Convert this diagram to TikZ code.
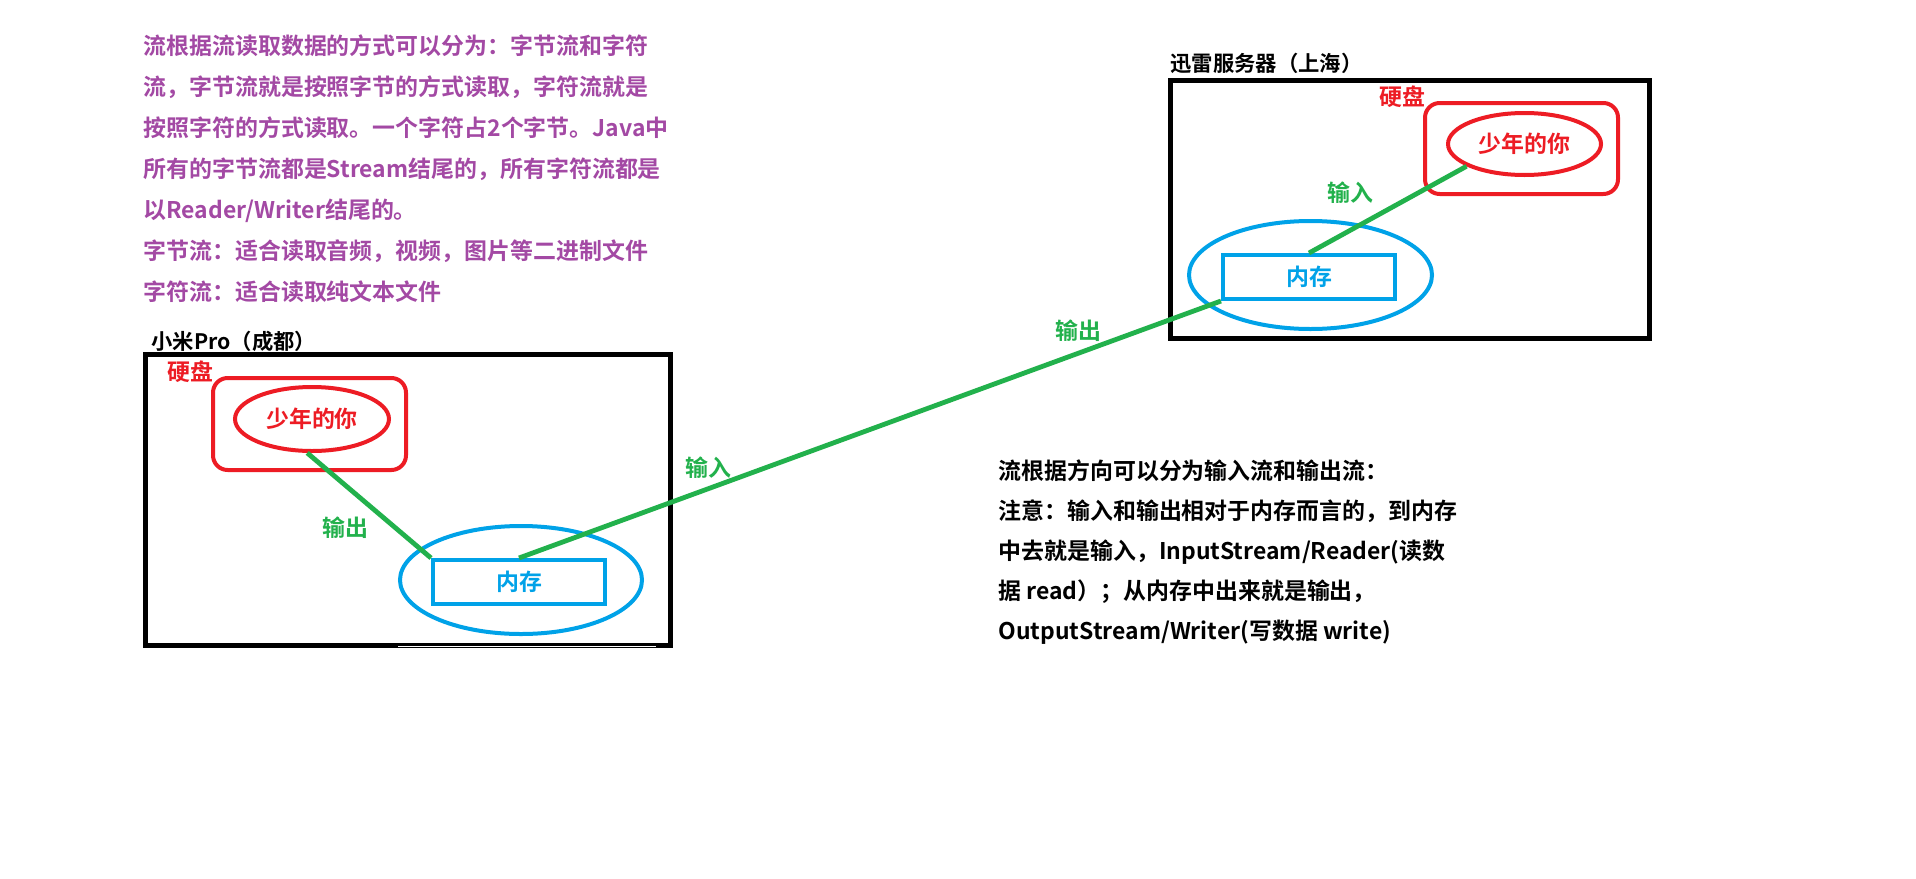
\documentclass[tikz,border=0pt]{standalone}
\usepackage{fontspec}
\setmainfont{Noto Sans CJK SC}[BoldFont={Noto Sans CJK SC Bold}]
\usetikzlibrary{shapes.geometric}

\definecolor{paintred}{RGB}{237,28,36}
\definecolor{paintblue}{RGB}{0,162,232}
\definecolor{paintgreen}{RGB}{34,177,76}
\definecolor{paintpurple}{RGB}{163,73,164}

\tikzset{every picture/.style={line width=0.75pt}}
\tikzset{
  txt/.style={inner sep=0pt, font=\bfseries\fontsize{17.2}{20}\selectfont},
  machine/.style={draw=black, line width=3.75pt, inner sep=0pt},
  disk/.style={draw=paintred, line width=3pt, rounded corners=11pt, inner sep=0pt},
  file/.style={ellipse, draw=paintred, line width=3pt, inner sep=0pt, text=paintred, txt},
  memory/.style={ellipse, draw=paintblue, line width=3pt, inner sep=0pt},
  ram/.style={draw=paintblue, line width=3pt, inner sep=0pt, text=paintblue, txt},
  flow/.style={draw=paintgreen, line width=3.6pt},
}

\begin{document}
\begin{tikzpicture}[x=0.75pt,y=0.75pt,yscale=-1,xscale=1]
        \path[use as bounding box, fill=white] (0,0) rectangle (1916,878);

        % Text Node
        \node (bytetext) at (143,34) [anchor=north west, txt, text=paintpurple, align=left, font=\bfseries\fontsize{17.2}{30.75}\selectfont] {流根据流读取数据的方式可以分为：字节流和字符\\流，字节流就是按照字节的方式读取，字符流就是\\按照字符的方式读取。一个字符占2个字节。Java中\\所有的字节流都是Stream结尾的，所有字符流都是\\以Reader/Writer结尾的。\\字节流：适合读取音频，视频，图片等二进制文件\\字符流：适合读取纯文本文件};

        %Shape: Rectangle [小米Pro]
        \node (lbox) at (408,500) [machine, minimum width=393.75pt, minimum height=218.25pt] {};
        \draw [white, line width=0.75pt] (398,646.5) -- (656,646.5);
        % Text Node
        \node (ltitle) at (151,341) [anchor=west, txt, font=\bfseries\fontsize{16}{20}\selectfont] {小米Pro（成都）};
        % Text Node
        \node (ldisklabel) at (190,372) [txt, text=paintred] {硬盘};
        %Shape: Rounded Rect
        \node (ldisk) at (309.5,424) [disk, minimum width=144.75pt, minimum height=69pt] {};
        %Shape: Ellipse
        \node (lfile) at (312,419) [file, minimum width=115.5pt, minimum height=48pt] {少年的你};
        %Shape: Ellipse
        \node (lmemory) at (521,580) [memory, minimum width=181.5pt, minimum height=81pt] {};
        %Shape: Rectangle
        \node (lram) at (519,582) [ram, minimum width=129pt, minimum height=33pt] {内存};

        %Shape: Rectangle [迅雷服务器]
        \node (rbox) at (1410,209.5) [machine, minimum width=359.25pt, minimum height=193.5pt] {};
        % Text Node
        \node (rtitle) at (1170,63) [anchor=west, txt, font=\bfseries\fontsize{16}{20}\selectfont] {迅雷服务器（上海）};
        % Text Node
        \node (rdisklabel) at (1402,97) [txt, text=paintred] {硬盘};
        %Shape: Rounded Rect
        \node (rdisk) at (1521.5,148.5) [disk, minimum width=144.75pt, minimum height=68.25pt] {};
        %Shape: Ellipse
        \node (rfile) at (1524.5,144) [file, minimum width=114.75pt, minimum height=46.5pt] {少年的你};
        %Shape: Ellipse
        \node (rmemory) at (1310.5,275) [memory, minimum width=182.25pt, minimum height=81pt] {};
        %Shape: Rectangle
        \node (rram) at (1309,277) [ram, minimum width=129pt, minimum height=33pt] {内存};

        %Straight Lines
        \draw [flow] (lfile.262) -- (lram.north west);
        \draw [flow] (lram.north) -- (rram.south west);
        \draw [flow] (rram.north) -- (rfile.201);

        % Text Node
        \node (lout) at (345,528) [txt, text=paintgreen] {输出};
        % Text Node
        \node (netin) at (708,468) [txt, text=paintgreen] {输入};
        % Text Node
        \node (netout) at (1078,331) [txt, text=paintgreen] {输出};
        % Text Node
        \node (rin) at (1350,193) [txt, text=paintgreen] {输入};

        % Text Node
        \node (dirtext) at (998,459) [anchor=north west, txt, align=left, font=\bfseries\fontsize{17.2}{30}\selectfont] {流根据方向可以分为输入流和输出流：\\注意：输入和输出相对于内存而言的，到内存\\中去就是输入，InputStream/Reader(读数\\据 read）；从内存中出来就是输出，\\OutputStream/Writer(写数据 write)};

    \end{tikzpicture}
\end{document}
